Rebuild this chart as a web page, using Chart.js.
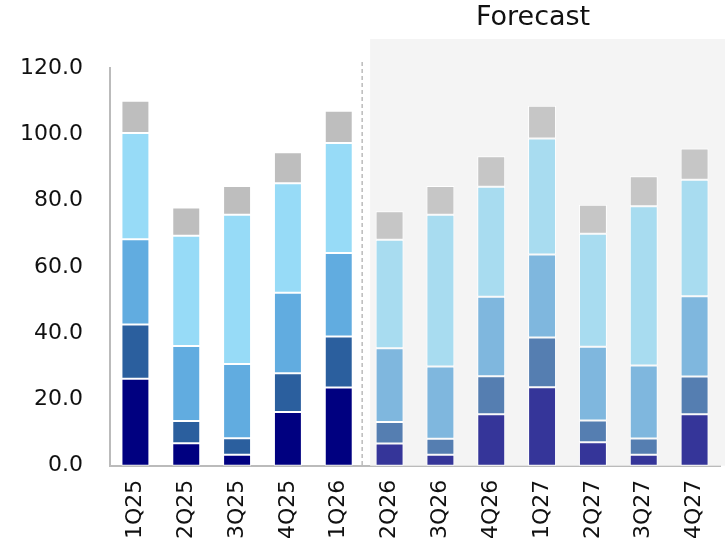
<!DOCTYPE html>
<html>
<head>
<meta charset="utf-8">
<script src="https://cdn.jsdelivr.net/npm/chart.js@4/dist/chart.umd.min.js"></script>
<style>
html,body{margin:0;padding:0;background:#fff;overflow:hidden;}
canvas{display:block;}
</style>
</head>
<body>
<canvas id="c" width="725" height="557" style="width:725px;height:557px"></canvas>
<script>
const categories = ["1Q25","2Q25","3Q25","4Q25","1Q26","2Q26","3Q26","4Q26","1Q27","2Q27","3Q27","4Q27"];
const forecastStartIndex = 5;
const seriesA = [26.2, 6.8, 3.3, 16.2, 23.6, 6.7, 3.3, 15.5, 23.7, 7.1, 3.3, 15.5];
const seriesB = [16.4, 6.7, 5.0, 11.7, 15.4, 6.5, 4.8, 11.5, 15.0, 6.5, 4.9, 11.4];
const seriesC = [25.7, 22.6, 22.4, 24.3, 25.2, 22.2, 21.8, 24.0, 25.0, 22.3, 22.0, 24.2];
const seriesD = [32.1, 33.3, 45.0, 33.0, 33.2, 32.8, 45.8, 33.2, 35.0, 34.1, 48.1, 35.2];
const seriesE = [9.7, 8.5, 8.7, 9.4, 9.7, 8.6, 8.7, 9.2, 9.9, 8.7, 9.0, 9.4];
const yTicks = [0, 20, 40, 60, 80, 100, 120];

const actualColors = ["#000080", "#2B5F9E", "#61ACE0", "#97DBF7", "#BEBEBE"];
const forecastColors = ["#353599", "#557EB1", "#7FB7DE", "#A8DCF0", "#C6C6C6"];
const allSeries = [seriesA, seriesB, seriesC, seriesD, seriesE];

const datasets = allSeries.map((s, k) => ({
  data: s,
  backgroundColor: categories.map((c, i) => i < forecastStartIndex ? actualColors[k] : forecastColors[k]),
  borderColor: "#ffffff",
  borderWidth: 1,
  borderSkipped: false,
  barPercentage: 0.55,
  categoryPercentage: 1.0
}));

const FONT = "'DejaVu Sans', sans-serif";

function boundaryOf(chart) {
  const x = chart.scales.x;
  return (x.getPixelForValue(forecastStartIndex - 1) + x.getPixelForValue(forecastStartIndex)) / 2 - 2;
}

const forecastPlugin = {
  id: "forecast",
  beforeDatasetsDraw(chart) {
    const {ctx, chartArea} = chart;
    const boundary = boundaryOf(chart);
    ctx.save();
    ctx.fillStyle = "#F4F4F4";
    ctx.fillRect(boundary + 8, chartArea.top - 29, chart.width - (boundary + 8), chartArea.bottom - chartArea.top + 29);
    ctx.strokeStyle = "#BBBBBB";
    ctx.lineWidth = 1.5;
    ctx.setLineDash([4, 3]);
    ctx.beginPath();
    ctx.moveTo(boundary, chartArea.top - 6);
    ctx.lineTo(boundary, chartArea.bottom);
    ctx.stroke();
    ctx.restore();
  },
  afterDraw(chart) {
    const {ctx, chartArea} = chart;
    const boundary = boundaryOf(chart);
    const cx = (boundary + chartArea.right) / 2 - 8;
    ctx.save();
    ctx.fillStyle = "#111111";
    ctx.font = "27px " + FONT;
    ctx.textAlign = "center";
    ctx.textBaseline = "middle";
    ctx.fillText("Forecast", cx, 18);
    ctx.restore();
  }
};

new Chart(document.getElementById("c"), {
  type: "bar",
  data: { labels: categories, datasets },
  options: {
    responsive: false,
    maintainAspectRatio: false,
    animation: false,
    devicePixelRatio: 1,
    layout: { padding: { top: 68, right: 5, left: 8, bottom: 4 } },
    plugins: { legend: { display: false }, tooltip: { enabled: false } },
    scales: {
      x: {
        stacked: true,
        afterFit(scale) { scale.paddingRight = 0; scale.paddingLeft = 0; },
        grid: { display: false, drawTicks: false },
        border: { display: true, color: "#BBBBBB", width: 2 },
        ticks: {
          color: "#111111",
          font: { family: FONT, size: 22 },
          minRotation: 90,
          maxRotation: 90,
          padding: 14,
          autoSkip: false
        }
      },
      y: {
        stacked: true,
        min: 0,
        max: 120,
        afterBuildTicks(scale) { scale.ticks = yTicks.map(v => ({ value: v })); },
        afterFit(scale) { scale.width = 102; },
        grid: { display: false, drawTicks: false },
        border: { display: true, color: "#BBBBBB", width: 2 },
        ticks: {
          color: "#111111",
          font: { family: FONT, size: 22 },
          padding: 27,
          callback: v => Number(v).toFixed(1)
        }
      }
    }
  },
  plugins: [forecastPlugin]
});
</script>
</body>
</html>
